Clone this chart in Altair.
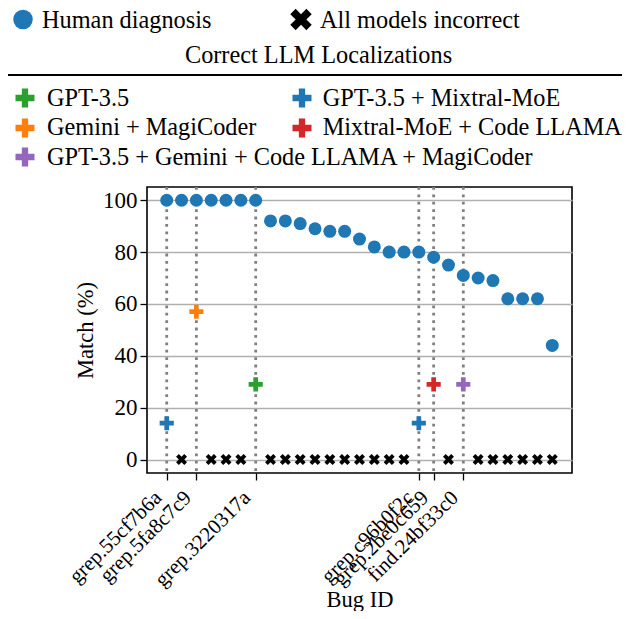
import altair as alt
import pandas as pd

# ---------------- data ----------------
human_match = [100, 100, 100, 100, 100, 100, 100, 92, 92, 91, 89, 88, 88, 85,
               82, 80, 80, 80, 78, 75, 71, 70, 69, 62, 62, 62, 44]
labelled_idx = [0, 2, 6, 17, 18, 20]
labelled_ids = ["grep.55cf7b6a", "grep.5fa8c7c9", "grep.3220317a",
                "grep.c96b0f2c", "grep.2be0c659", "find.24bf33c0"]
loc_idx = [0, 2, 6, 17, 18, 20]
loc_match = [14, 57, 29, 14, 29, 29]
loc_combo = ["GPT-3.5 + Mixtral-MoE", "Gemini + MagiCoder", "GPT-3.5",
             "GPT-3.5 + Mixtral-MoE", "Mixtral-MoE + Code LLAMA",
             "GPT-3.5 + Gemini + Code LLAMA + MagiCoder"]
combos = ["GPT-3.5", "Gemini + MagiCoder",
          "GPT-3.5 + Gemini + Code LLAMA + MagiCoder",
          "GPT-3.5 + Mixtral-MoE", "Mixtral-MoE + Code LLAMA"]
combo_colors = ["#2ca02c", "#ff7f0e", "#9467bd", "#1f77b4", "#d62728"]
top_labels = ["Human diagnosis", "All models incorrect"]
legend_title = "Correct LLM Localizations"

n = len(human_match)
idx = list(range(n))
incorrect_idx = [i for i in idx if i not in loc_idx]
incorrect_val = [0 for _ in incorrect_idx]

human_df = pd.DataFrame({"bug": idx, "match": human_match})
loc_df = pd.DataFrame({"bug": loc_idx, "match": loc_match, "combo": loc_combo})
inc_df = pd.DataFrame({"bug": incorrect_idx, "match": incorrect_val})
vline_df = pd.DataFrame({"bug": loc_idx})

FONT = "Liberation Serif, Times New Roman, serif"
FS = 23
LFS = 24.3
BLUE = "#1f77b4"

PLUS = "M-0.333,-1L0.333,-1L0.333,-0.333L1,-0.333L1,0.333L0.333,0.333L0.333,1L-0.333,1L-0.333,0.333L-1,0.333L-1,-0.333L-0.333,-0.333Z"
XMARK = "M-0.5,-1L0,-0.5L0.5,-1L1,-0.5L0.5,0L1,0.5L0.5,1L0,0.5L-0.5,1L-1,0.5L-0.5,0L-1,-0.5Z"

label_expr = " : ".join(
    [f"datum.value == {i} ? '{s}'" for i, s in zip(labelled_idx, labelled_ids)]
) + " : ''"

xscale = alt.Scale(domain=[-1.33, 27.33], nice=False, zero=False)
yscale = alt.Scale(domain=[-5.2, 105.1], nice=False, zero=False)

xaxis = alt.Axis(
    values=labelled_idx, labelExpr=label_expr, title="Bug ID",
    labelAngle=315, labelAlign="right", labelBaseline="top",
    labelOverlap=False, labelFlush=False, labelBound=False,
    labelFontSize=21, labelPadding=6.5, labelOffset=-16.5,
    tickSize=7, tickWidth=1.3, tickColor="black", domain=False, grid=False,
    titleX=212.5, titleY=126, titleAlign="center", titleBaseline="middle",
)
yaxis = alt.Axis(
    values=[0, 20, 40, 60, 80, 100], title="Match (%)",
    tickSize=7, tickWidth=1.3, tickColor="black", domain=False,
    grid=True, gridColor="#b0b0b0", gridWidth=1.3, labelPadding=3,
    titleX=-62, titleY=143, titleAngle=270, titleAlign="center",
    titleBaseline="middle",
)

vlines = alt.Chart(vline_df).mark_rule(
    color="#808080", strokeWidth=2.8, strokeDash=[2.8, 4.6]
).encode(x=alt.X("bug:Q", scale=xscale, axis=xaxis))

human = alt.Chart(human_df).mark_point(
    shape="circle", filled=True, size=169, color=BLUE, opacity=1
).encode(
    x=alt.X("bug:Q", scale=xscale, axis=xaxis),
    y=alt.Y("match:Q", scale=yscale, axis=yaxis),
)

plus = alt.Chart(loc_df).mark_point(
    shape=PLUS, filled=True, size=200, opacity=1
).encode(
    x=alt.X("bug:Q", scale=xscale),
    y=alt.Y("match:Q", scale=yscale),
    color=alt.Color("combo:N", scale=alt.Scale(domain=combos, range=combo_colors), legend=None),
)

xm = alt.Chart(inc_df).mark_point(
    shape=XMARK, filled=True, size=120, color="black", opacity=1
).encode(
    x=alt.X("bug:Q", scale=xscale),
    y=alt.Y("match:Q", scale=yscale),
)

# ---------------- manual legend ----------------
def text_layer(t, x, y, align="left"):
    return alt.Chart(pd.DataFrame({"t": [t]})).mark_text(
        align=align, baseline="alphabetic", font=FONT, fontSize=LFS, color="black"
    ).encode(x=alt.value(x), y=alt.value(y), text="t:N")

def sym_layer(t, shape, color, size, x, y):
    return alt.Chart(pd.DataFrame({"t": [t]})).mark_point(
        shape=shape, filled=True, size=size, color=color, opacity=1
    ).encode(x=alt.value(x), y=alt.value(y))

legend_layers = [
    sym_layer(top_labels[0], "circle", BLUE, 380, -124, -167.5),
    text_layer(top_labels[0], -105, -159.5),
    sym_layer(top_labels[1], XMARK, "black", 460, 154, -167.5),
    text_layer(top_labels[1], 173, -159.5),
    text_layer(legend_title, 171.5, -123.7, align="center"),
    alt.Chart(pd.DataFrame({"t": [legend_title]})).mark_rule(
        color="black", strokeWidth=1.8
    ).encode(x=alt.value(-147), x2=alt.value(490), y=alt.value(-112)),
]
col_x = [(-122, -100), (155, 175.7)]
row_y = [(-89, -81), (-59, -52), (-30, -22.5)]
for k, (c, col) in enumerate(zip(combos, combo_colors)):
    ci = 0 if k < 3 else 1
    ri = k if k < 3 else k - 3
    legend_layers.append(sym_layer(c, PLUS, col, 361, col_x[ci][0], row_y[ri][0]))
    legend_layers.append(text_layer(c, col_x[ci][1], row_y[ri][1]))

chart = alt.layer(vlines, human, plus, xm, *legend_layers).properties(
    width=425, height=286,
    autosize=alt.AutoSizeParams(type="none"),
    padding={"left": 139, "top": 179, "right": 50, "bottom": 138},
).configure_view(
    stroke="black", strokeWidth=1.6
).configure_axis(
    labelFont=FONT, labelFontSize=FS, labelColor="black",
    titleFont=FONT, titleFontSize=22.5, titleFontWeight="normal", titleColor="black",
)

chart.save("out.html", embed_options={"renderer": "svg", "actions": False})
